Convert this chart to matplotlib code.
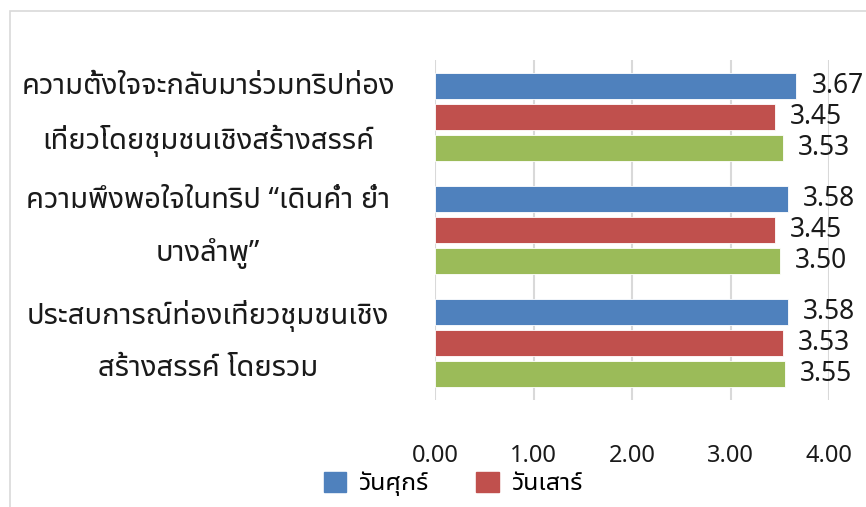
import matplotlib
matplotlib.use("Agg")
import matplotlib.pyplot as plt
import matplotlib.transforms as mtransforms
from matplotlib import font_manager
from matplotlib.ft2font import FT2Font
from matplotlib.patches import Patch, Rectangle
import numpy as np

# ---- data ----
categories = [
    "ความตั้งใจจะกลับมาร่วมทริปท่อง\nเที่ยวโดยชุมชนเชิงสร้างสรรค์",
    "ความพึงพอใจในทริป “เดินค่ำ ย่ำ\nบางลำพู”",
    "ประสบการณ์ท่องเที่ยวชุมชนเชิง\nสร้างสรรค์ โดยรวม",
]
series_names = ["วันศุกร์", "วันเสาร์", "วันอาทิตย์"]
friday = [3.67, 3.58, 3.58]
saturday = [3.45, 3.45, 3.53]
sunday = [3.53, 3.50, 3.55]
xticks = [0, 1, 2, 3, 4]
xtick_labels = ["0.00", "1.00", "2.00", "3.00", "4.00"]
colors = ["#4F81BD", "#C0504D", "#9BBB59"]

# ---- fonts: find a family with Thai glyphs ----
thai = []
for f in font_manager.fontManager.ttflist:
    try:
        if 0x0E01 in FT2Font(f.fname).get_charmap():
            if f.name not in thai:
                thai.append(f.name)
    except Exception:
        pass
pref = [n for n in thai if n.startswith("Noto Sans Thai") and "Looped" not in n]
order = pref + [n for n in thai if n not in pref]
families = order + ["DejaVu Sans"]
plt.rcParams["font.family"] = families

fig = plt.figure(figsize=(8.66, 5.07), dpi=100)
ax = fig.add_axes([435/866, 1-400/507, (829-435)/866, 340/507])

values = [friday, saturday, sunday]
n = len(categories)
y = np.arange(n)
step = 0.273
h = 0.229
for i, vals in enumerate(values):
    ys = y + (i - 1) * step
    ax.barh(ys, vals, height=h, color=colors[i], edgecolor="white", linewidth=0.6, zorder=3)
    for yy, v in zip(ys, vals):
        ax.annotate(f"{v:.2f}", (v, yy), xytext=(15, 0), textcoords="offset pixels",
                    ha="left", va="center", fontsize=19, color="#1a1a1a")

ax.set_xlim(0, 4)
ax.set_ylim(n - 0.5, -0.5)
ax.set_xticks(xticks)
ax.set_xticklabels(xtick_labels, fontsize=17, color="#1a1a1a")
ax.tick_params(axis="x", length=0, pad=32)
ax.set_yticks([])
ax.grid(axis="x", color="#d9d9d9", linewidth=1.5, zorder=0)
for s in ax.spines.values():
    s.set_visible(False)

trans = mtransforms.blended_transform_factory(fig.transFigure, ax.transData)
for yy, lab in zip(y, categories):
    ax.text(208/866, yy - 0.02, lab, transform=trans, ha="center", va="center",
            multialignment="center", fontsize=21, linespacing=2.0, color="#1a1a1a")

# chart border (partly outside the visible canvas)
fig.patches.append(Rectangle((10/866, -0.2), 1.2, 1 - 11/507 + 0.2, transform=fig.transFigure,
                             fill=False, edgecolor="#d9d9d9", linewidth=1.2))

handles = [Patch(color=colors[0]), Patch(color=colors[1])]
labels = [series_names[0], series_names[1]]
fig.legend(handles, labels, ncol=2, loc="upper left", bbox_to_anchor=(301/866, 1-449/507),
           frameon=False, fontsize=18, handlelength=0.9, handleheight=0.9,
           handletextpad=0.5, columnspacing=1.9)

fig.savefig("out.png", dpi=100)
